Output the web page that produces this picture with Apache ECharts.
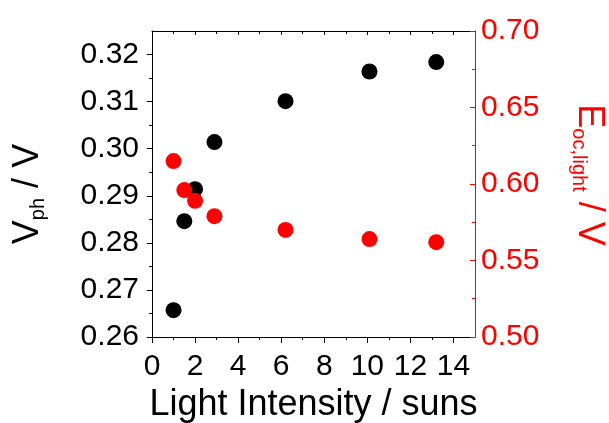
<!DOCTYPE html>
<html>
<head>
<meta charset="utf-8">
<script src="https://cdn.jsdelivr.net/npm/echarts@6/dist/echarts.min.js"></script>
<style>
  html, body { margin: 0; padding: 0; background: #fff; }
  #chart { width: 609px; height: 423px; }
</style>
</head>
<body>
<div id="chart"></div>
<script>
// Light intensity (suns) and the two measured quantities
const intensity = [1.0, 1.5, 2.0, 2.9, 6.2, 10.1, 13.2];
const vph = [0.2657, 0.2846, 0.2914, 0.3014, 0.3101, 0.3164, 0.3184];
const eocLight = [0.615, 0.596, 0.589, 0.579, 0.570, 0.564, 0.562];

// Tick positions
const xMajor = [0, 2, 4, 6, 8, 10, 12, 14];
const xMinor = [1, 3, 5, 7, 9, 11, 13];
const vphMajor = [0.26, 0.27, 0.28, 0.29, 0.30, 0.31, 0.32];
const vphMinor = [0.265, 0.275, 0.285, 0.295, 0.305, 0.315];
const eocMajor = [0.50, 0.55, 0.60, 0.65, 0.70];
const eocMinor = [0.525, 0.575, 0.625, 0.675];

const FONT = '"Liberation Sans", Arial, Helvetica, sans-serif';
const BLACK = '#000000';
const RED = '#ff0000';

const X_RANGE = { min: 0, max: 15 };
const VPH_RANGE = { min: 0.26, max: 0.325 };
const EOC_RANGE = { min: 0.50, max: 0.70 };

function pairs(xs, ys) {
  return xs.map((x, i) => [x, ys[i]]);
}

function tickAxis(base, values, len, inside, color, showLine) {
  return Object.assign({
    type: 'value',
    axisLine: { show: !!showLine, onZero: false, lineStyle: { color: color, width: 1 } },
    axisTick: { show: true, inside: inside, length: len, customValues: values,
                lineStyle: { color: color, width: 1 } },
    axisLabel: { show: false },
    splitLine: { show: false }
  }, base);
}

const chart = echarts.init(document.getElementById('chart'), null, { renderer: 'canvas' });

const option = {
  animation: false,
  backgroundColor: '#ffffff',
  grid: {
    left: 152, right: 134, top: 31, bottom: 86,
    containLabel: false,
    outerBoundsMode: 'none'
  },
  xAxis: [
    // bottom axis: line, major ticks, labels, name
    Object.assign(tickAxis(Object.assign({ position: 'bottom' }, X_RANGE), xMajor, 6, false, BLACK, true), {
      axisLabel: {
        show: true, customValues: xMajor, margin: 15,
        fontSize: 30, fontFamily: FONT, color: BLACK
      },
      name: 'Light Intensity / suns',
      nameLocation: 'middle',
      nameGap: 50,
      nameTextStyle: { fontSize: 36, fontFamily: FONT, color: BLACK }
    }),
    // bottom minor ticks
    tickAxis(Object.assign({ position: 'bottom' }, X_RANGE), xMinor, 3, false, BLACK, false),
    // top frame with inward ticks
    tickAxis(Object.assign({ position: 'top' }, X_RANGE), xMajor, 4, true, BLACK, true),
    tickAxis(Object.assign({ position: 'top' }, X_RANGE), xMinor, 3, true, BLACK, false)
  ],
  yAxis: [
    // left axis: photovoltage
    Object.assign(tickAxis(Object.assign({ position: 'left' }, VPH_RANGE), vphMajor, 5, false, BLACK, true), {
      axisLabel: {
        show: true, customValues: vphMajor, margin: 13,
        fontSize: 30, fontFamily: FONT, color: BLACK,
        formatter: v => v.toFixed(2)
      },
      name: '{a|V}{b|ph}{a| / V}',
      nameLocation: 'middle',
      nameRotate: 90,
      nameGap: 104,
      nameTextStyle: {
        padding: [0, 20, 0, 0],
        rich: {
          a: { fontSize: 36, fontFamily: FONT, color: BLACK, lineHeight: 40 },
          b: { fontSize: 20, fontFamily: FONT, color: BLACK, lineHeight: 20, verticalAlign: 'bottom' }
        }
      }
    }),
    tickAxis(Object.assign({ position: 'left' }, VPH_RANGE), vphMinor, 3, false, BLACK, false),
    // right axis: open-circuit potential under light
    Object.assign(tickAxis(Object.assign({ position: 'right' }, EOC_RANGE), eocMajor, 5, true, RED, true), {
      axisLabel: {
        show: true, customValues: eocMajor, margin: 6,
        fontSize: 30, fontFamily: FONT, color: RED,
        formatter: v => v.toFixed(2)
      },
      name: '{a|E}{b|oc,light}{a| / V}',
      nameLocation: 'middle',
      nameRotate: -90,
      nameGap: 94,
      nameTextStyle: {
        padding: [0, 18, 0, 0],
        rich: {
          a: { fontSize: 36, fontFamily: FONT, color: RED, lineHeight: 40 },
          b: { fontSize: 20, fontFamily: FONT, color: RED, lineHeight: 20, verticalAlign: 'bottom' }
        }
      }
    }),
    tickAxis(Object.assign({ position: 'right' }, EOC_RANGE), eocMinor, 3, true, RED, false)
  ],
  series: [
    {
      name: 'Vph',
      type: 'scatter',
      xAxisIndex: 0,
      yAxisIndex: 0,
      symbol: 'circle',
      symbolSize: 16,
      itemStyle: { color: BLACK, opacity: 1 },
      data: pairs(intensity, vph),
      z: 3
    },
    {
      name: 'Eoc,light',
      type: 'scatter',
      xAxisIndex: 0,
      yAxisIndex: 2,
      symbol: 'circle',
      symbolSize: 16,
      itemStyle: { color: RED, opacity: 1 },
      data: pairs(intensity, eocLight),
      z: 4
    }
  ]
};

chart.setOption(option);
</script>
</body>
</html>
